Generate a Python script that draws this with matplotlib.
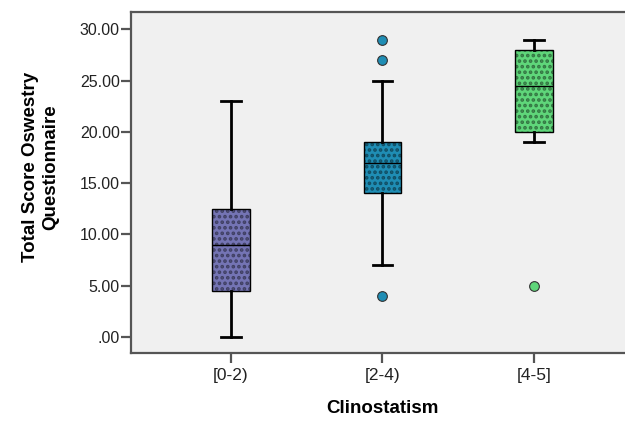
import matplotlib
matplotlib.use("Agg")
import matplotlib.pyplot as plt
from matplotlib.patches import PathPatch

plt.rcParams['font.family'] = ['Liberation Sans', 'DejaVu Sans']
plt.rcParams['hatch.linewidth'] = 1.8

categories = ["[0-2)", "[2-4)", "[4-5]"]
whisker_low = [0.0, 7.0, 19.0]
q1 = [4.5, 14.0, 20.0]
medians = [9.0, 17.0, 24.5]
q3 = [12.5, 19.0, 28.0]
whisker_high = [23.0, 25.0, 29.0]
outliers = [[], [29.0, 27.0, 4.0], [5.0]]
colors = ["#7474b4", "#1f8db4", "#5fd67a"]

yticks = [0, 5, 10, 15, 20, 25, 30]
ytick_labels = [".00", "5.00", "10.00", "15.00", "20.00", "25.00", "30.00"]

stats = []
for i, name in enumerate(categories):
    stats.append({
        "label": name,
        "whislo": whisker_low[i],
        "q1": q1[i],
        "med": medians[i],
        "q3": q3[i],
        "whishi": whisker_high[i],
        "fliers": outliers[i],
    })

fig = plt.figure(figsize=(6.25, 4.25), dpi=100)
ax = fig.add_axes([131 / 625, 1 - 353 / 425, 503 / 625, 341 / 425])
ax.set_facecolor("#f0f0f0")

bp = ax.bxp(stats, positions=[1, 2, 3], widths=0.25, patch_artist=True,
            boxprops=dict(edgecolor="black", linewidth=1.0),
            whiskerprops=dict(color="black", linewidth=2.0),
            capprops=dict(color="black", linewidth=2.0),
            medianprops=dict(color="black", linewidth=1.0),
            flierprops=dict(marker="o", markersize=7, markeredgecolor="#333333",
                            markeredgewidth=0.8),
            capwidths=0.13)

for box, fl, c in zip(bp["boxes"], bp["fliers"], colors):
    box.set_facecolor(c)
    box.set_zorder(2)
    dots = PathPatch(box.get_path(), facecolor="none", edgecolor=(0, 0, 0, 0.45),
                     hatch="...", linewidth=0, zorder=2.1)
    ax.add_patch(dots)
    fl.set_markerfacecolor(c)

for m in bp["medians"]:
    m.set_zorder(3)

ax.set_xlim(0.34, 3.66)
ax.set_ylim(-1.56, 31.69)
ax.set_yticks(yticks)
ax.set_yticklabels(ytick_labels)
ax.set_xticks([1, 2, 3])
ax.set_xticklabels(categories)

for side in ["left", "bottom", "top", "right"]:
    ax.spines[side].set_color("#555555")
    ax.spines[side].set_linewidth(1.6)

ax.tick_params(axis="both", colors="#555555", width=1.6, length=7, labelcolor="#222222")
ax.tick_params(axis="y", labelsize=11.5, pad=1)
ax.tick_params(axis="x", labelsize=12.5, pad=4)

ax.set_ylabel("Total Score Oswestry\nQuestionnaire", fontsize=13.5, fontweight="bold",
              linespacing=1.2, labelpad=15)
ax.yaxis.label.set_y(0.545)
ax.set_xlabel("Clinostatism", fontsize=13.5, fontweight="bold", labelpad=12)

fig.savefig("out.png", dpi=100)
